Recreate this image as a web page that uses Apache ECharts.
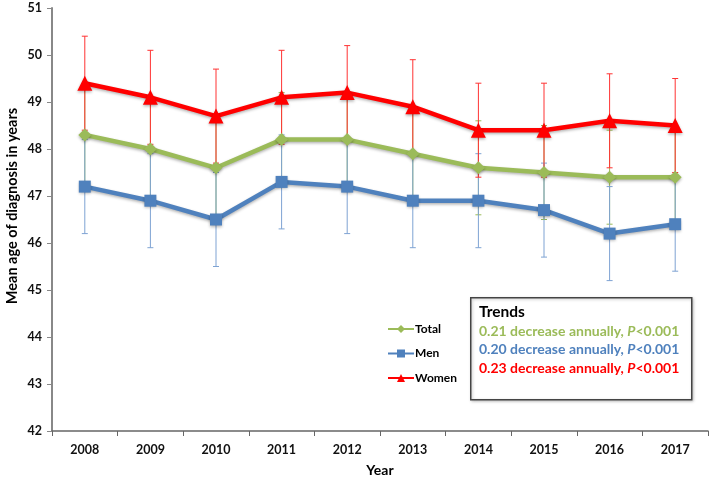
<!DOCTYPE html>
<html><head><meta charset="utf-8">
<script src="https://cdn.jsdelivr.net/npm/echarts@6/dist/echarts.min.js"></script>
<style>html,body{margin:0;padding:0;background:#fff}#c{width:709px;height:478px}</style>
</head><body><div id="c"></div>
<script>
var years = ['2008','2009','2010','2011','2012','2013','2014','2015','2016','2017'];
var women = [49.4, 49.1, 48.7, 49.1, 49.2, 48.9, 48.4, 48.4, 48.6, 48.5];
var total = [48.3, 48.0, 47.6, 48.2, 48.2, 47.9, 47.6, 47.5, 47.4, 47.4];
var men   = [47.2, 46.9, 46.5, 47.3, 47.2, 46.9, 46.9, 46.7, 46.2, 46.4];
var womenErr = [1, 1, 1, 1, 1, 1, 1, 1, 1, 1];
var totalErr = [1, 1, 1, 1, 1, 1, 1, 1, 1, 1];
var menErr   = [1, 1, 1, 1, 1, 1, 1, 1, 1, 1];
var trendLines = [
  {value: '0.21', color: '#9bbb59'},
  {value: '0.20', color: '#4f81bd'},
  {value: '0.23', color: '#ff0000'}
];

var FONT = 'Lato, "Liberation Sans", Arial, sans-serif';

function errData(vals, errs) {
  return vals.map(function (v, i) { return [i, v - errs[i], v + errs[i]]; });
}
function errSeries(name, vals, errs, color) {
  return {
    type: 'custom', name: name + ' err', z: 1, silent: true,
    data: errData(vals, errs),
    encode: {x: 0, y: [1, 2]},
    renderItem: function (params, api) {
      var lo = api.coord([api.value(0), api.value(1)]);
      var hi = api.coord([api.value(0), api.value(2)]);
      var w = 3;
      var st = {stroke: color, lineWidth: 1};
      return {type: 'group', children: [
        {type: 'line', shape: {x1: lo[0], y1: lo[1], x2: hi[0], y2: hi[1]}, style: st},
        {type: 'line', shape: {x1: lo[0]-w, y1: lo[1], x2: lo[0]+w, y2: lo[1]}, style: st},
        {type: 'line', shape: {x1: hi[0]-w, y1: hi[1], x2: hi[0]+w, y2: hi[1]}, style: st}
      ]};
    }
  };
}
function lineSeries(name, vals, color, symbol, size) {
  return {
    type: 'line', name: name, z: 3, data: vals,
    symbol: symbol, symbolSize: size,
    lineStyle: {color: color, width: 4.5, shadowColor: 'rgba(0,0,0,0.3)', shadowBlur: 3, shadowOffsetY: 1.5},
    itemStyle: {color: color, shadowColor: 'rgba(0,0,0,0.3)', shadowBlur: 3, shadowOffsetY: 1.5},
    emphasis: {disabled: true}
  };
}

var FS = 14;
var trendRich = {
  t: {fontFamily: FONT, fontWeight: 'bold', fontSize: 15.5, lineHeight: 20, fill: '#000'}
};
var trendText = '{t|Trends}';
trendLines.forEach(function (t, i) {
  var k = 'c' + i, ki = 'i' + i;
  trendRich[k] = {fontFamily: FONT, fontWeight: 'bold', fontSize: FS, lineHeight: 18.5, fill: t.color};
  trendRich[ki] = {fontFamily: FONT, fontWeight: 'bold', fontStyle: 'italic', fontSize: FS, lineHeight: 18.5, fill: t.color};
  trendText += '\n{' + k + '|' + t.value + ' decrease annually, }{' + ki + '|P}{' + k + '|<0.001}';
});

var chart = echarts.init(document.getElementById('c'), null, {renderer: 'canvas'});
chart.setOption({
  animation: false,
  grid: {left: 52, right: 1, top: 8, bottom: 47, outerBoundsMode: 'none', containLabel: false},
  legend: {
    data: ['Total', 'Men', 'Women'],
    orient: 'vertical', left: 382, top: 318,
    itemWidth: 26, itemHeight: 10, itemGap: 12.5,
    textStyle: {fontFamily: FONT, fontWeight: 'bold', fontSize: 12, color: '#000', padding: [0, 0, 0, -4]},
    selectedMode: false
  },
  xAxis: {
    type: 'category', data: years, boundaryGap: true,
    name: 'Year', nameLocation: 'middle', nameGap: 32,
    nameTextStyle: {fontFamily: FONT, fontWeight: 'bold', fontSize: 14, color: '#000'},
    axisLine: {lineStyle: {color: '#666', width: 1.5}},
    axisTick: {show: true, inside: false, length: 5, interval: 0, lineStyle: {color: '#666'}},
    axisLabel: {fontFamily: FONT, fontWeight: 'bold', fontSize: 12.5, color: '#111', margin: 12}
  },
  yAxis: {
    type: 'value', min: 42, max: 51, interval: 1,
    axisLine: {show: true, lineStyle: {color: '#888', width: 2}},
    axisTick: {show: true, length: 5, lineStyle: {color: '#888'}},
    splitLine: {show: false},
    axisLabel: {fontFamily: FONT, fontWeight: 'bold', fontSize: 12.5, color: '#111', margin: 10}
  },
  graphic: [
    {type: 'text', x: 12, y: 206, rotation: Math.PI / 2, z: 11,
     style: {text: 'Mean age of diagnosis in years', fontFamily: FONT, fontWeight: 'bold', fontSize: 14.5,
             fill: '#000', align: 'center', verticalAlign: 'middle'}},
    {type: 'rect', left: 470, top: 297, shape: {width: 221, height: 102}, z: 10,
     style: {fill: '#fff', stroke: '#444', lineWidth: 1.5, shadowColor: 'rgba(0,0,0,0.25)', shadowBlur: 3, shadowOffsetX: 1, shadowOffsetY: 1}},
    {type: 'text', left: 479, top: 304, z: 11,
     style: {text: trendText, rich: trendRich}}
  ],
  series: [
    errSeries('Total', total, totalErr, '#9bbb59'),
    errSeries('Men', men, menErr, '#7ea3d3'),
    errSeries('Women', women, womenErr, '#ff3333'),
    lineSeries('Total', total, '#9bbb59', 'diamond', 13),
    lineSeries('Men', men, '#4f81bd', 'rect', 12),
    lineSeries('Women', women, '#ff0000', 'triangle', 15)
  ]
});
</script></body></html>
